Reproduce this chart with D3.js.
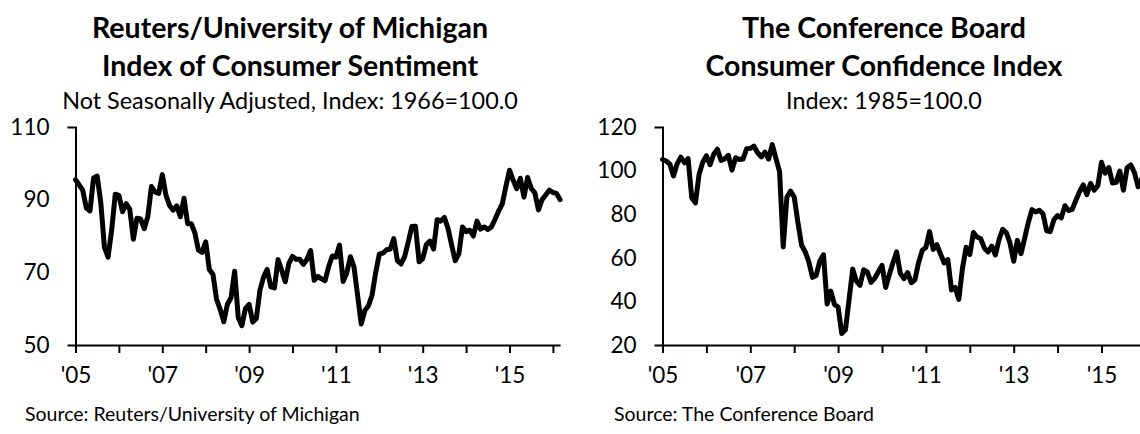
<!DOCTYPE html>
<html>
<head>
<meta charset="utf-8">
<script src="https://cdn.jsdelivr.net/npm/d3@7"></script>
<style>
    body { margin: 0; background: #fff; }
    svg { display: block; font-family: Lato, 'Open Sans', sans-serif; }
    .title { font-weight: bold; font-size: 28.5px; }
    .subtitle { font-size: 23.4px; }
    .source { font-size: 19.5px; }
    .axis text { font-family: Lato, 'Open Sans', sans-serif; font-size: 22.5px; fill: #000; }
    .axis path, .axis line { stroke: #000; stroke-width: 2px; }
    .series { fill: none; stroke: #000; stroke-width: 5px; stroke-linejoin: round; stroke-linecap: round; }
</style>
</head>
<body>
<svg id="chart" width="1140" height="434"></svg>
<script>
'use strict';

// Monthly values, first entry is January 2005
const startYear = 2005;
const yearTicks = d3.range(2005, 2017);

const umichValues = [
    95.5, 94.1, 92.6, 87.7, 86.9, 96.0, 96.5, 89.1, 76.9, 74.2, 81.6, 91.5, // 2005
    91.2, 86.7, 88.9, 87.4, 79.1, 84.9, 84.7, 82.0, 85.4, 93.6, 92.1, 91.7, // 2006
    96.9, 91.3, 88.4, 87.1, 88.3, 85.3, 90.4, 83.4, 83.4, 80.9, 76.1, 75.5, // 2007
    78.4, 70.8, 69.5, 62.6, 59.8, 56.4, 61.2, 63.0, 70.3, 57.6, 55.3, 60.1, // 2008
    61.2, 56.3, 57.3, 65.1, 68.7, 70.8, 66.0, 65.7, 73.5, 70.6, 67.4, 72.5, // 2009
    74.4, 73.6, 73.6, 72.2, 73.6, 76.0, 67.8, 68.9, 68.2, 67.7, 71.6, 74.5, // 2010
    74.2, 77.5, 67.5, 69.8, 74.3, 71.5, 63.7, 55.8, 59.5, 60.8, 63.7, 69.9, // 2011
    75.0, 75.3, 76.2, 76.4, 79.3, 73.2, 72.3, 74.3, 78.3, 82.6, 82.7, 72.9, // 2012
    73.8, 77.6, 78.6, 76.4, 84.5, 84.1, 85.1, 82.1, 77.5, 73.2, 75.1, 82.5, // 2013
    81.2, 81.6, 80.0, 84.1, 81.9, 82.5, 81.8, 82.5, 84.6, 86.9, 88.8, 93.6, // 2014
    98.1, 95.4, 93.0, 95.9, 90.7, 96.1, 93.1, 91.9, 87.2, 90.0, 91.3, 92.6, // 2015
    92.0, 91.7, 90.0                                                        // 2016
];

const cciValues = [
    105.1, 104.4, 103.0, 97.5, 103.1, 106.2, 103.6, 105.5, 87.5, 85.2, 98.3, 103.8, // 2005
    106.8, 102.7, 107.5, 109.8, 104.7, 105.4, 107.0, 100.2, 105.9, 105.1, 105.3, 110.0, // 2006
    110.2, 111.2, 108.2, 106.3, 108.5, 105.3, 111.9, 105.6, 99.5, 65.0, 87.8, 90.6, // 2007
    87.9, 76.4, 65.9, 62.8, 58.1, 51.0, 51.9, 58.5, 61.4, 38.8, 44.7, 38.6, // 2008
    37.4, 25.3, 26.9, 40.8, 54.8, 49.3, 47.4, 54.5, 53.4, 48.7, 50.6, 53.6, // 2009
    56.5, 46.4, 52.3, 57.7, 62.7, 52.9, 50.4, 53.2, 48.6, 49.9, 57.8, 63.4, // 2010
    64.8, 72.0, 63.8, 66.0, 61.7, 57.6, 59.2, 45.2, 46.4, 40.9, 55.2, 64.8, // 2011
    61.5, 71.6, 69.5, 68.7, 64.4, 62.7, 65.4, 61.3, 68.4, 73.1, 71.5, 66.7, // 2012
    58.4, 68.0, 61.9, 69.0, 76.2, 82.1, 81.0, 81.8, 80.2, 72.4, 72.0, 77.5, // 2013
    79.4, 78.3, 83.9, 81.7, 82.2, 86.4, 90.3, 93.4, 89.0, 94.1, 91.0, 93.1, // 2014
    103.8, 98.8, 101.4, 94.3, 94.6, 99.8, 91.0, 101.3, 102.6, 99.1, 92.6, 96.3, // 2015
    98.1, 94.0                                                               // 2016
];

const umichTicks = [50, 70, 90, 110];
const cciTicks = [20, 40, 60, 80, 100, 120];

const umichTitle = ['Reuters/University of Michigan', 'Index of Consumer Sentiment'];
const cciTitle = ['The Conference Board', 'Consumer Confidence Index'];

const svg = d3.select('#chart');

/**
 * Draws one titled line panel
 */
function drawPanel(cfg) {
    const g = svg.append('g');
    const top = 127, bottom = 345;
    const endYear = startYear + 11 + 2 / 12;

    const x = d3.scaleLinear()
        .domain([startYear, endYear])
        .range([cfg.left, cfg.left + cfg.yearWidth * (endYear - startYear)]);
    const y = d3.scaleLinear()
        .domain(d3.extent(cfg.yTicks))
        .range([bottom, top]);

    // titles
    g.selectAll('text.title')
        .data(cfg.title)
        .enter()
        .append('text')
        .attr('class', 'title')
        .attr('x', cfg.center)
        .attr('y', (d, i) => 38 + i * 38)
        .attr('text-anchor', 'middle')
        .text(d => d);

    g.append('text')
        .attr('class', 'subtitle')
        .attr('x', cfg.center)
        .attr('y', 109)
        .attr('text-anchor', 'middle')
        .text(cfg.subtitle);

    g.append('text')
        .attr('class', 'source')
        .attr('x', cfg.sourceX)
        .attr('y', 421)
        .text(cfg.source);

    // axes
    g.append('g')
        .attr('class', 'axis')
        .attr('transform', 'translate(0,' + bottom + ')')
        .call(d3.axisBottom(x)
            .tickValues(yearTicks)
            .tickSizeInner(8)
            .tickSizeOuter(0)
            .tickPadding(14)
            .tickFormat(d => d % 2 === 1 ? "'" + String(d).slice(2) : ''));

    g.append('g')
        .attr('class', 'axis')
        .attr('transform', 'translate(' + cfg.left + ',0)')
        .call(d3.axisLeft(y)
            .tickValues(cfg.yTicks)
            .tickSizeInner(0)
            .tickSizeOuter(8)
            .tickPadding(26))
        .selectAll('.tick line').remove();

    // series
    const line = d3.line()
        .x((d, i) => x(startYear + i / 12))
        .y(d => y(d));

    g.append('path')
        .datum(cfg.values)
        .attr('class', 'series')
        .attr('d', line);
}

drawPanel({
    title: umichTitle,
    subtitle: 'Not Seasonally Adjusted, Index: 1966=100.0',
    source: 'Source: Reuters/University of Michigan',
    values: umichValues,
    yTicks: umichTicks,
    left: 75.5,
    yearWidth: 43.4,
    center: 290,
    sourceX: 25
});

drawPanel({
    title: cciTitle,
    subtitle: 'Index: 1985=100.0',
    source: 'Source: The Conference Board',
    values: cciValues,
    yTicks: cciTicks,
    left: 662.5,
    yearWidth: 43.9,
    center: 884,
    sourceX: 614
});
</script>
</body>
</html>
